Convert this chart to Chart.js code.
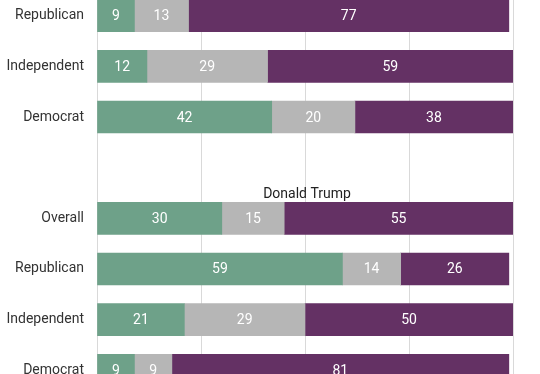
<!DOCTYPE html>
<html>
<head>
<meta charset="utf-8">
<script src="https://cdn.jsdelivr.net/npm/chart.js@4/dist/chart.umd.min.js"></script>
<style>
  html, body { margin: 0; padding: 0; background: #fff; overflow: hidden; }
  body { width: 540px; height: 374px; position: relative; }
  #wrap { position: absolute; left: 0; top: -31px; width: 540px; height: 448px; }
</style>
</head>
<body>
<div id="wrap"><canvas id="chart"></canvas></div>
<script>
// rows from the picture (blank row separates the two groups)
const categories = ["Republican", "Independent", "Democrat", "", "Overall", "Republican", "Independent", "Democrat"];
const greenValues = [9, 12, 42, null, 30, 59, 21, 9];
const greyValues = [13, 29, 20, null, 15, 14, 29, 9];
const purpleValues = [77, 59, 38, null, 55, 26, 50, 81];
const xTicks = [0, 25, 50, 75, 100];
const groupTitle = "Donald Trump";
const groupTitleRow = 4;

const FONT = "Roboto, 'Noto Sans', sans-serif";

// white numbers in the middle of each segment
const valueLabels = {
	id: "valueLabels",
	afterDatasetsDraw(chart) {
		const ctx = chart.ctx;
		ctx.save();
		ctx.font = "14px " + FONT;
		ctx.fillStyle = "#ffffff";
		ctx.textAlign = "center";
		ctx.textBaseline = "middle";
		chart.data.datasets.forEach((ds, i) => {
			const meta = chart.getDatasetMeta(i);
			meta.data.forEach((bar, j) => {
				const v = ds.data[j];
				if (v === null || v === undefined) return;
				const p = bar.getProps(["x", "base", "y"], true);
				ctx.fillText(String(v), (p.x + p.base) / 2, p.y + 1);
			});
		});
		ctx.restore();
	}
};

// group heading above the "Overall" row
const groupHeading = {
	id: "groupHeading",
	afterDraw(chart) {
		const ctx = chart.ctx;
		const area = chart.chartArea;
		const y = chart.scales.y.getPixelForValue(groupTitleRow) - 16 - 4;
		ctx.save();
		ctx.font = "14px " + FONT;
		ctx.fillStyle = "#222222";
		ctx.textAlign = "center";
		ctx.textBaseline = "alphabetic";
		ctx.fillText(groupTitle, (area.left + area.right) / 2 + 2, y);
		ctx.restore();
	}
};

const ctx = document.getElementById("chart").getContext("2d");
new Chart(ctx, {
	type: "bar",
	data: {
		labels: categories,
		datasets: [
			{ data: greenValues, backgroundColor: "#6ea189" },
			{ data: greyValues, backgroundColor: "#b6b6b6" },
			{ data: purpleValues, backgroundColor: "#643164" }
		]
	},
	options: {
		indexAxis: "y",
		responsive: true,
		maintainAspectRatio: false,
		animation: false,
		layout: { padding: { left: 0, right: 27, top: 0, bottom: 0 } },
		datasets: { bar: { barThickness: 32, borderWidth: 0 } },
		plugins: {
			legend: { display: false },
			tooltip: { enabled: false }
		},
		scales: {
			x: {
				stacked: true,
				min: xTicks[0],
				max: xTicks[xTicks.length - 1],
				afterBuildTicks: (scale) => {
					scale.ticks = xTicks.map((v) => ({ value: v }));
				},
				afterFit: (scale) => { scale.height = 0; },
				ticks: { display: false },
				grid: { color: "#d9d9d9", drawTicks: false },
				border: { display: false }
			},
			y: {
				stacked: true,
				afterFit: (scale) => { scale.width = 97; },
				grid: { display: false, drawTicks: false },
				border: { display: false },
				ticks: {
					padding: 13,
					color: "#333333",
					font: { family: FONT, size: 14 }
				}
			}
		}
	},
	plugins: [valueLabels, groupHeading]
});
</script>
</body>
</html>
